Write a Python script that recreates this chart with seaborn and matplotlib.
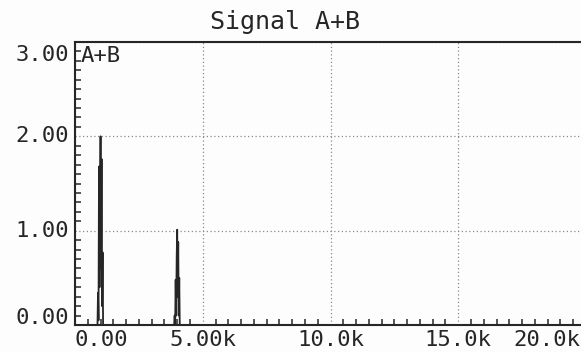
import matplotlib
matplotlib.use("Agg")
import matplotlib.pyplot as plt
import matplotlib.transforms as mtrans
from matplotlib.ticker import MultipleLocator, FixedLocator
import seaborn as sns
import pandas as pd

# ---- data ----
freq_hz = [0,
           880, 900, 920, 940, 960, 980, 1000, 1020, 1040, 1060, 1080, 1100,
           3880, 3900, 3920, 3940, 3960, 3980, 4000, 4020, 4040, 4060, 4080, 4100,
           20000]
magnitude = [0,
             0, 0.34, 0.05, 1.68, 0.40, 1.26, 2.00, 0.60, 1.76, 0.20, 0.77, 0,
             0, 0.10, 0.00, 0.48, 0.10, 0.72, 1.01, 0.30, 0.88, 0.10, 0.50, 0,
             0]
x_ticks = [0, 5000, 10000, 15000, 20000]
x_tick_labels = ["0.00", "5.00k", "10.0k", "15.0k", "20.0k"]
y_ticks = [0, 1, 2, 3]
y_tick_labels = ["0.00", "1.00", "2.00", "3.00"]
title = "Signal A+B"
trace_label = "A+B"

df = pd.DataFrame({"freq": freq_hz, "mag": magnitude})

sns.set_style("white")
plt.rcParams["font.family"] = ["DejaVu Sans Mono", "DejaVu Sans"]

ink = "#262626"
fig = plt.figure(figsize=(5.81, 3.52), dpi=100)
fig.patch.set_facecolor("#fdfdfd")
W, H = 581, 352
ax = fig.add_axes([75 / W, 1 - 325 / H, (586 - 75) / W, (325 - 42) / H])
ax.set_facecolor("#fdfdfd")

sns.lineplot(data=df, x="freq", y="mag", ax=ax, color=ink, lw=1.3,
             estimator=None, sort=False, legend=False)

ax.set_xlim(0, 20000)
ax.set_ylim(0, 3)
ax.set_xlabel("")
ax.set_ylabel("")

ax.xaxis.set_major_locator(FixedLocator(x_ticks))
ax.xaxis.set_minor_locator(MultipleLocator(500))
ax.yaxis.set_major_locator(FixedLocator(y_ticks))
ax.yaxis.set_minor_locator(MultipleLocator(0.1))

ax.tick_params(which="major", direction="in", length=11.5, width=1.3,
               color=ink, top=False, right=False,
               labelbottom=False, labelleft=False)
ax.tick_params(which="minor", direction="in", length=4.5, width=1.1,
               color=ink, top=False, right=False, bottom=True, left=True)

ax.grid(which="major", linestyle=(0, (1, 2)), color="#8a8a8a", lw=0.9)

for s in ["left", "bottom", "top"]:
    ax.spines[s].set_color(ink)
    ax.spines[s].set_linewidth(1.5)
ax.spines["right"].set_visible(False)

# tick labels drawn as text at the tick positions, ends kept inside the frame
fs = 16
xtr = mtrans.blended_transform_factory(ax.transData, ax.transAxes)
for i, (xv, lab) in enumerate(zip(x_ticks, x_tick_labels)):
    ha = "center"
    dx = 0
    if i == 0:
        ha = "left"
    elif i == len(x_ticks) - 1:
        ha = "right"
        dx = -6
    tr = mtrans.offset_copy(xtr, fig=fig, x=dx, y=-5, units="dots")
    ax.text(xv, 0, lab, transform=tr, ha=ha, va="top", fontsize=fs,
            color=ink, clip_on=False)

ytr = mtrans.blended_transform_factory(ax.transAxes, ax.transData)
for i, (yv, lab) in enumerate(zip(y_ticks, y_tick_labels)):
    va = "center"
    dy = 0
    if i == 0:
        va = "baseline"
        dy = 1
    elif i == len(y_ticks) - 1:
        va = "top"
        dy = -3
    tr = mtrans.offset_copy(ytr, fig=fig, x=-6, y=dy, units="dots")
    ax.text(0, yv, lab, transform=tr, ha="right", va=va, fontsize=fs,
            color=ink, clip_on=False)

ax.text(6 / (586 - 75), 1 - 4 / (325 - 42), trace_label, transform=ax.transAxes,
        ha="left", va="top", fontsize=fs, color=ink)

fig.text(285 / W, 1 - 22 / H, title, ha="center", va="center",
         fontsize=18, color=ink)

fig.savefig("out.png", dpi=100, facecolor=fig.get_facecolor())
